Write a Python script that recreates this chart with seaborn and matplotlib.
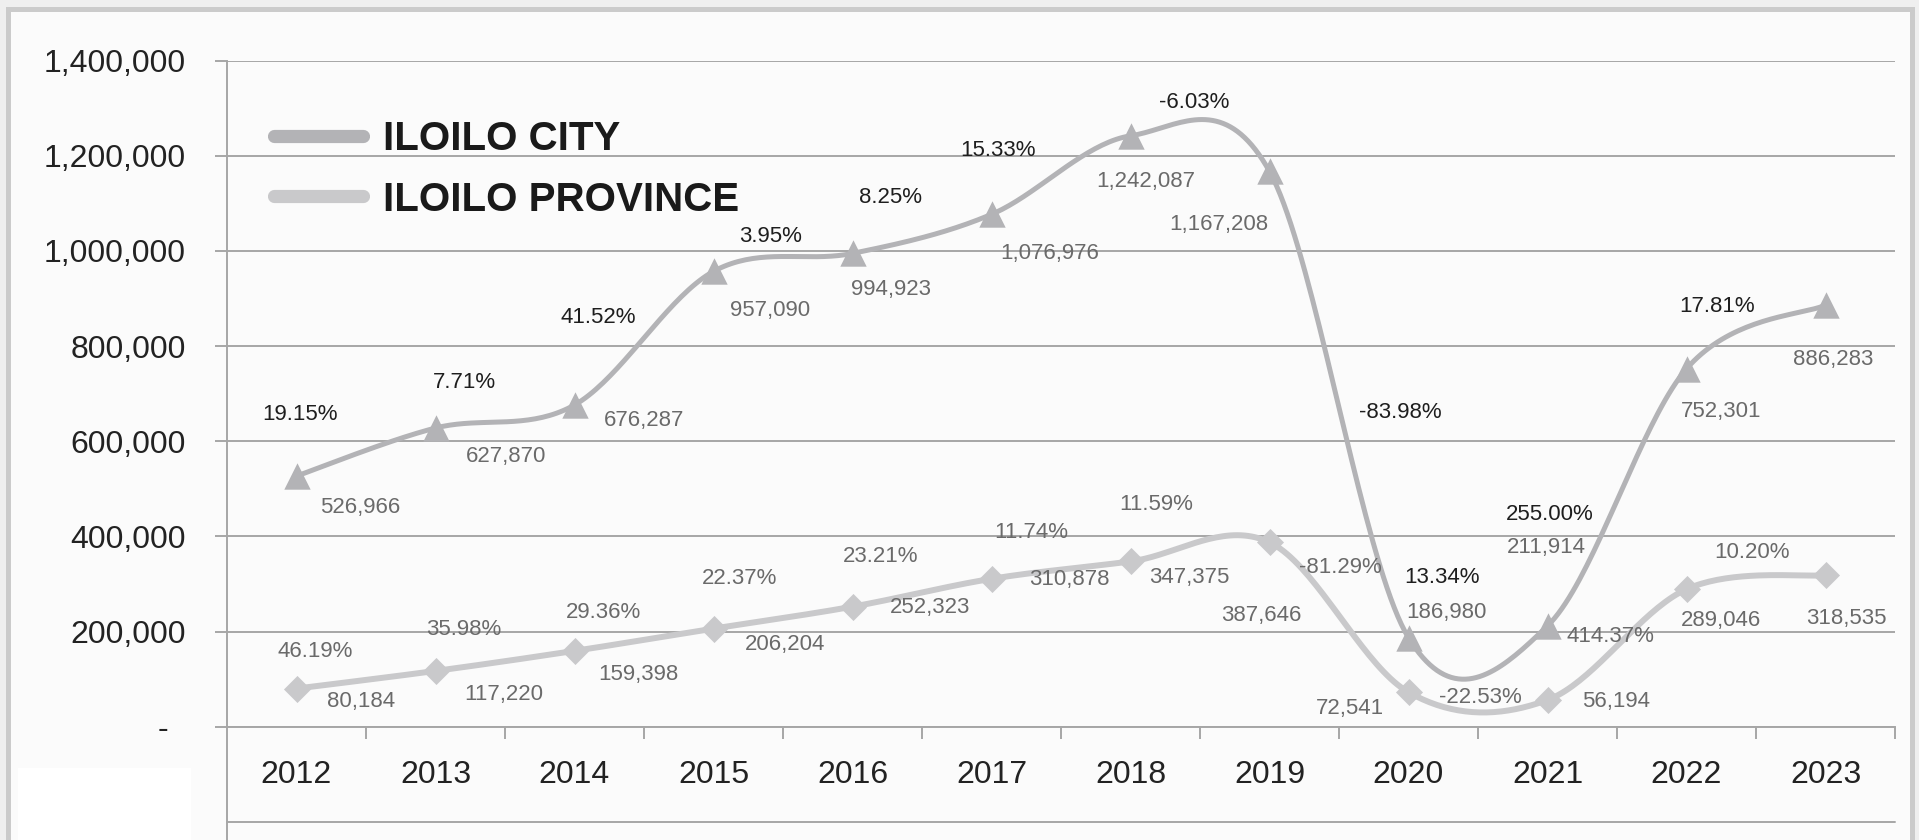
import numpy as np
import pandas as pd
import seaborn as sns
import matplotlib.pyplot as plt
from matplotlib.patches import Rectangle
from matplotlib.lines import Line2D

# data
years = [2012, 2013, 2014, 2015, 2016, 2017, 2018, 2019, 2020, 2021, 2022, 2023]
city = [526966, 627870, 676287, 957090, 994923, 1076976, 1242087, 1167208,
        186980, 211914, 752301, 886283]
province = [80184, 117220, 159398, 206204, 252323, 310878, 347375, 387646,
            72541, 56194, 289046, 318535]
# year-on-year growth, 2013..2023
city_growth = ["19.15%", "7.71%", "41.52%", "3.95%", "8.25%", "15.33%", "-6.03%",
               "-83.98%", "13.34%", "255.00%", "17.81%"]
province_growth = ["46.19%", "35.98%", "29.36%", "22.37%", "23.21%", "11.74%",
                   "11.59%", "-81.29%", "-22.53%", "414.37%", "10.20%"]

# label placement (pixel offsets from the point, +dy = down)
city_val_off = [(64, 31), (71, 28), (70, 16), (57, 39), (39, 36), (58, 39),
                (15, 46), (-51, 53), (38, -25), (-1, -78), (35, 43), (8, 54)]
city_pct_off = [(4, -62), (29, -46), (24, -87), (57, -35), (38, -56), (6, -64),
                (64, -33), (131, 241), (33, -60), (2, -111), (31, -62)]
prov_val_off = [(65, 13), (68, 24), (64, 24), (72, 16), (78, 1), (78, 1),
                (59, 16), (-8, 73), (-59, 16), (69, 2), (34, 31), (21, 43)]
prov_pct_off = [(19, -37), (28, -41), (29, -38), (26, -50), (28, -50), (40, -46),
                (26, -57), (71, 25), (72, 5), (63, -63), (66, -37)]

CITY_COL = "#b3b3b6"
PROV_COL = "#c9c9cb"
VAL_COL = "#6a6a6a"
GRID_COL = "#a6a6a6"


def smooth(vals, n=40):
    # excel-style smoothed line (catmull-rom bezier)
    pts = np.column_stack([np.arange(len(vals)), np.asarray(vals, float)])
    ext = np.vstack([pts[0], pts, pts[-1]])
    out = []
    for i in range(len(pts) - 1):
        p0, p3 = pts[i], pts[i + 1]
        p1 = p0 + (ext[i + 2] - ext[i]) / 6
        p2 = p3 - (ext[i + 3] - ext[i + 1]) / 6
        t = np.linspace(0, 1, n)[:, None]
        seg = (1 - t) ** 3 * p0 + 3 * (1 - t) ** 2 * t * p1 + 3 * (1 - t) * t ** 2 * p2 + t ** 3 * p3
        out.append(seg if i == 0 else seg[1:])
    seg = np.vstack(out)
    return pd.DataFrame({"x": seg[:, 0], "y": seg[:, 1]})


def px(off):
    return (off[0] * 0.72, -off[1] * 0.72)


def main():
    sns.set_theme(style="white")
    plt.rcParams["font.family"] = ["Liberation Sans", "DejaVu Sans"]

    fig = plt.figure(figsize=(19.19, 8.4), dpi=100, facecolor="#efefef")
    fig.add_artist(Rectangle((8 / 1919, -0.05), 1904 / 1919, 1.05 - 9 / 840,
                             transform=fig.transFigure, facecolor="#fbfbfb",
                             edgecolor="#cbcbcb", linewidth=3.6, zorder=0))
    fig.add_artist(Rectangle((18 / 1919, 0), 173 / 1919, 72 / 840,
                             transform=fig.transFigure, facecolor="white",
                             edgecolor="none", zorder=0.5))

    ax = fig.add_axes([227 / 1919, 1 - 726.7 / 840, 1668 / 1919, 666 / 840])
    ax.set_facecolor("none")

    idx = np.arange(len(years))
    sns.lineplot(data=smooth(city), x="x", y="y", sort=False, estimator=None,
                 color=CITY_COL, linewidth=3.6, ax=ax, zorder=3)
    sns.lineplot(data=smooth(province), x="x", y="y", sort=False, estimator=None,
                 color=PROV_COL, linewidth=4.3, ax=ax, zorder=2)
    sns.scatterplot(x=idx, y=city, marker="^", s=361, color=CITY_COL,
                    linewidth=0, ax=ax, zorder=4)
    sns.scatterplot(x=idx, y=province, marker="D", s=190, color=PROV_COL,
                    linewidth=0, ax=ax, zorder=4)

    for i, v in enumerate(city):
        ax.annotate(f"{v:,}", (i, v), xytext=px(city_val_off[i]), textcoords="offset points",
                    ha="center", va="center", fontsize=16, color=VAL_COL, zorder=5)
    for i, v in enumerate(province):
        ax.annotate(f"{v:,}", (i, v), xytext=px(prov_val_off[i]), textcoords="offset points",
                    ha="center", va="center", fontsize=16, color=VAL_COL, zorder=5)
    for i, g in enumerate(city_growth):
        ax.annotate(g, (i, city[i]), xytext=px(city_pct_off[i]), textcoords="offset points",
                    ha="center", va="center", fontsize=16, color="#1e1e1e", zorder=5)
    for i, g in enumerate(province_growth):
        ax.annotate(g, (i, province[i]), xytext=px(prov_pct_off[i]), textcoords="offset points",
                    ha="center", va="center", fontsize=16, color=VAL_COL, zorder=5)

    ax.set_xlim(-0.5, 11.5)
    ax.set_ylim(0, 1400000)
    yt = np.arange(0, 1400001, 200000)
    ax.set_yticks(yt)
    ax.set_yticklabels(["-  " if t == 0 else f"{t:,}" for t in yt])
    ax.set_xticks(idx)
    ax.set_xticklabels([str(y) for y in years])
    ax.set_xticks(np.arange(0.5, 12, 1), minor=True)
    ax.set_xlabel("")
    ax.set_ylabel("")

    ax.yaxis.grid(True, color=GRID_COL, linewidth=1.4)
    ax.set_axisbelow(True)
    for s in ["top", "right"]:
        ax.spines[s].set_visible(False)
    for s in ["left", "bottom"]:
        ax.spines[s].set_color(GRID_COL)
        ax.spines[s].set_linewidth(1.4)

    ax.tick_params(axis="y", length=8.6, width=1.4, color=GRID_COL, direction="out",
                   pad=21, labelsize=23, labelcolor="#222222", left=True)
    ax.tick_params(axis="x", which="major", length=0, pad=24, labelsize=23,
                   labelcolor="#222222")
    ax.tick_params(axis="x", which="minor", length=8.6, width=1.4, color=GRID_COL,
                   direction="out", bottom=True)

    # table-style frame under the axis
    ax.plot([0, 1], [-0.1426, -0.1426], transform=ax.transAxes, color=GRID_COL,
            lw=1.4, clip_on=False)
    ax.plot([0, 0], [0, -0.175], transform=ax.transAxes, color=GRID_COL,
            lw=1.4, clip_on=False)

    handles = [Line2D([], [], color=CITY_COL, lw=9.5, solid_capstyle="round"),
               Line2D([], [], color=PROV_COL, lw=9.5, solid_capstyle="round")]
    leg = fig.legend(handles, ["ILOILO CITY", "ILOILO PROVINCE"], loc="upper left",
                     bbox_to_anchor=(274 / 1919, 1 - 120 / 840), frameon=False,
                     prop={"size": 29, "weight": "bold"}, handlelength=2.2,
                     handletextpad=0.5, labelspacing=0.56, borderpad=0,
                     borderaxespad=0)
    for t in leg.get_texts():
        t.set_color("#1a1a1a")

    fig.savefig("out.png", dpi=100, facecolor=fig.get_facecolor())


if __name__ == "__main__":
    main()
